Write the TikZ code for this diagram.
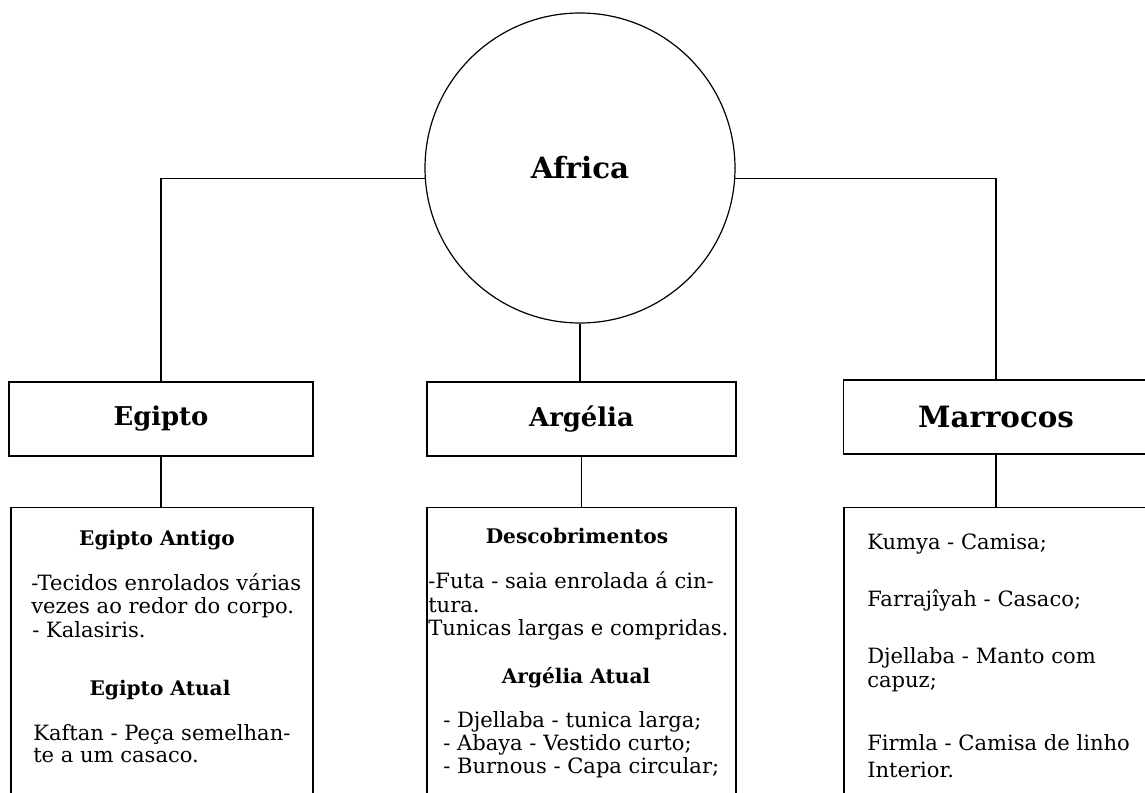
\documentclass[tikz,border=0pt]{standalone}
\usepackage{fontspec}
\setmainfont{DejaVu Serif}
\tikzset{
  country/.style={draw, line width=1.1pt, minimum width=228pt, minimum height=55.5pt, inner sep=0pt, font=\fontsize{19.4}{21}\selectfont\bfseries},
  infobox/.style={draw, line width=1.1pt, anchor=north, minimum height=225pt, inner sep=0pt},
  txt/.style={anchor=base west, inner sep=0pt, font=\fontsize{15.8}{18}\selectfont},
  sub/.style={anchor=base, inner sep=0pt, font=\fontsize{15.1}{18}\selectfont\bfseries},
  link/.style={draw, line width=0.8pt},
}
\begin{document}
\begin{tikzpicture}[x=0.75pt, y=-0.75pt]
\useasboundingbox (0,0) rectangle (1145,792);
\clip (0,0) rectangle (1145,792);
% top level
\node[draw, circle, line width=0.9pt, minimum size=232.5pt, font=\fontsize{22}{24}\selectfont\bfseries] (africa) at (580,168) {Africa};
\node[country] (egipto) at (161,419) {Egipto};
\node[country, minimum width=231.75pt] (argelia) at (581.5,419) {Argélia};
\node[country, minimum width=229pt, font=\fontsize{22}{24}\selectfont\bfseries] (marrocos) at (996,417) {Marrocos};
\node[infobox, minimum width=226.5pt] (egbox) at (162,507) {};
\node[infobox, minimum width=231.75pt] (agbox) at (581.5,507) {};
\node[infobox, minimum width=228pt] (mabox) at (996,507) {};
\path[link] (africa.184) -| (egipto.north);
\path[link] (africa.-4) -| (marrocos.north);
\path[link] (africa.south) -- (africa.south |- argelia.north);
\path[link] (egipto.south) -- (egipto.south |- egbox.north);
\path[link] (argelia.south) -- (argelia.south |- agbox.north);
\path[link] (marrocos.south) -- (marrocos.south |- mabox.north);
% Egipto
\node[sub] (ea) at (157,545) {Egipto Antigo};
\node[txt] (e1) at (31,590) {-Tecidos enrolados várias};
\node[txt] (e2) at (31,613) {vezes ao redor do corpo.};
\node[txt] (e3) at (32,637) {- Kalasiris.};
\node[sub] (eb) at (160,695) {Egipto Atual};
\node[txt] (e4) at (33,740) {Kaftan - Peça semelhan-};
\node[txt] (e5) at (33,762) {te a um casaco.};
% Argelia
\node[sub] (da) at (577,543) {Descobrimentos};
\node[txt] (d1) at (428,588) {-Futa - saia enrolada á cin-};
\node[txt] (d2) at (428,612) {tura.};
\node[txt] (d3) at (428,635) {Tunicas largas e compridas.};
\node[sub] (db) at (576,683) {Argélia Atual};
\node[txt] (d4) at (443,727) {- Djellaba - tunica larga;};
\node[txt] (d5) at (443,750) {- Abaya - Vestido curto;};
\node[txt] (d6) at (443,773) {- Burnous - Capa circular;};
% Marrocos
\node[txt] (m1) at (867,549) {Kumya - Camisa;};
\node[txt] (m2) at (867,606) {Farrajîyah - Casaco;};
\node[txt] (m3) at (867,663) {Djellaba - Manto com};
\node[txt] (m4) at (867,687) {capuz;};
\node[txt] (m5) at (867,750) {Firmla - Camisa de linho};
\node[txt] (m6) at (867,777) {Interior.};
\end{tikzpicture}
\end{document}
